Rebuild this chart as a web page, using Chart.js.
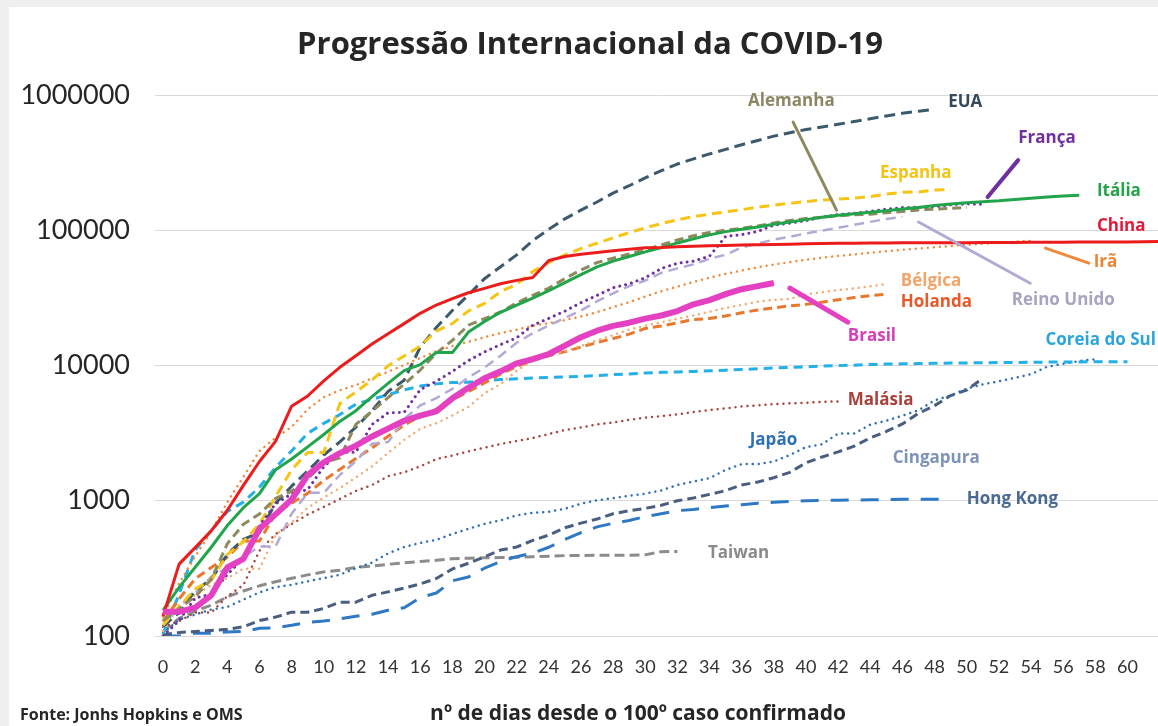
<!DOCTYPE html>
<html lang="pt">
<head>
<meta charset="utf-8">
<title>Progressão Internacional da COVID-19</title>
<script src="https://cdn.jsdelivr.net/npm/chart.js@4.4.1/dist/chart.umd.min.js"></script>
<style>
  html, body { margin: 0; padding: 0; background: #fff; }
  canvas { display: block; }
</style>
</head>
<body>
<canvas id="covidChart" width="1158" height="726"></canvas>
<script>
// Total de casos confirmados por dia, contado a partir do 100º caso (dia 0)
const brasil = [151, 151, 162, 200, 321, 372, 621, 793, 1021, 1546, 1924, 2247, 2554, 2985, 3417, 3904, 4256, 4579, 5717, 6836, 8044, 9056, 10360, 11130, 12161, 14034, 16170, 18092, 19638, 20727, 22192, 23430, 25262, 28320, 30425, 33682, 36658, 38654, 40743];
const china = [140, 340, 450, 600, 850, 1300, 1950, 2750, 5000, 5950, 7700, 9700, 11800, 14400, 17200, 20400, 24300, 28000, 31200, 34500, 37200, 40200, 42600, 44700, 59800, 63900, 66500, 68500, 70500, 72400, 74200, 74600, 75500, 76300, 76900, 77200, 77700, 78100, 78500, 78800, 79300, 79800, 80000, 80200, 80400, 80600, 80700, 80800, 80800, 80900, 81000, 81100, 81200, 81300, 81400, 81500, 81600, 81700, 81800, 81900, 82000, 82200, 82700];
const eua = [118, 149, 217, 262, 402, 518, 583, 959, 1281, 1663, 2179, 2726, 3499, 4632, 6421, 7786, 13680, 19101, 25493, 33276, 43847, 53740, 65778, 83836, 101657, 121478, 140886, 161807, 188172, 213372, 243762, 275586, 308853, 337072, 366667, 396223, 429052, 461437, 496535, 526396, 555313, 580619, 607670, 636350, 667592, 699706, 732197, 759086, 784326];
const italia = [155, 229, 322, 453, 655, 888, 1128, 1694, 2036, 2502, 3089, 3858, 4636, 5883, 7375, 9172, 10149, 12462, 12462, 17660, 21157, 24747, 27980, 31506, 35713, 41035, 47021, 53578, 59138, 63927, 69176, 74386, 80589, 86498, 92472, 97689, 101739, 105792, 110574, 115242, 119827, 124632, 128948, 132547, 135586, 139422, 143626, 147577, 152271, 156363, 159516, 162488, 165155, 168941, 172434, 175925, 178972, 181228];
const espanha = [120, 165, 222, 259, 400, 500, 673, 1073, 1695, 2277, 2277, 5232, 6391, 7798, 9942, 11748, 13910, 17963, 20410, 25374, 28768, 35136, 39885, 49515, 57786, 65719, 73235, 80110, 87956, 95923, 104118, 112065, 119199, 126168, 131646, 136675, 141942, 148220, 153222, 158273, 163027, 166831, 170099, 172541, 177644, 184948, 190839, 191726, 198674, 200210];
const alemanha = [130, 159, 196, 262, 482, 670, 799, 1040, 1176, 1457, 1908, 2078, 3675, 4585, 5795, 7272, 9257, 12327, 15320, 19848, 22213, 24873, 29056, 32986, 37323, 43938, 50871, 57695, 62095, 66885, 71808, 77872, 84794, 91159, 96092, 100123, 103374, 107663, 113296, 118181, 122171, 124908, 127854, 130072, 131359, 134753, 137698, 141397, 143342, 145184, 147065];
const franca = [100, 130, 191, 204, 285, 377, 653, 949, 1126, 1209, 1784, 2281, 2281, 3661, 4469, 4499, 6633, 7652, 9043, 10871, 12612, 14282, 16018, 19856, 22304, 25233, 29155, 32964, 37575, 40174, 44550, 52128, 56989, 59105, 64338, 89953, 92839, 98010, 109069, 112950, 117749, 124869, 130730, 133670, 137875, 143303, 147091, 147969, 149149, 154097, 156480, 155393];
const reinoUnido = [116, 164, 207, 274, 322, 384, 459, 459, 802, 1144, 1145, 1551, 1960, 2642, 2716, 4014, 5067, 5745, 6726, 8164, 9640, 11812, 14745, 17312, 19780, 22453, 25481, 29865, 34173, 38689, 42477, 48436, 52279, 55949, 61474, 65872, 74605, 79874, 85206, 89570, 94845, 99483, 104145, 109769, 115314, 121172, 125856];
const ira = [139, 245, 388, 593, 978, 1501, 2336, 2922, 3513, 4747, 5823, 6566, 7161, 8042, 9000, 10075, 11364, 12729, 13938, 14991, 16169, 17361, 18407, 19644, 20610, 21638, 23049, 24811, 27017, 29406, 32332, 35408, 38309, 41495, 44605, 47593, 50468, 53183, 55743, 58226, 60500, 62589, 64586, 66220, 68192, 70029, 71686, 73303, 74877, 76389, 77995, 79494, 80868, 82211, 83505];
const belgica = [109, 169, 200, 239, 267, 314, 314, 559, 689, 886, 1058, 1243, 1486, 1795, 2257, 2815, 3401, 3743, 4269, 4937, 6235, 7284, 9134, 10836, 11899, 12775, 13964, 15348, 16770, 18431, 19691, 20814, 22194, 23403, 24983, 26667, 28018, 29647, 30589, 31119, 33573, 34809, 36138, 37183, 38496, 39983];
const holanda = [128, 188, 265, 321, 382, 503, 503, 804, 959, 1135, 1413, 1705, 2051, 2460, 2994, 3631, 4204, 4749, 5560, 6412, 7431, 8647, 9819, 10930, 11817, 12667, 13696, 14788, 15821, 17053, 18803, 19580, 20682, 21903, 22253, 23249, 24571, 25746, 26710, 27580, 28316, 29383, 30619, 31766, 32838, 33588];
const coreiaDoSul = [104, 204, 433, 602, 833, 977, 1261, 1766, 2337, 3150, 3736, 4335, 5186, 5621, 6088, 6593, 7041, 7314, 7478, 7513, 7755, 7869, 7979, 8086, 8162, 8236, 8320, 8413, 8565, 8652, 8799, 8897, 8961, 9037, 9137, 9241, 9332, 9478, 9583, 9661, 9786, 9887, 9976, 10062, 10156, 10237, 10284, 10331, 10384, 10423, 10450, 10480, 10512, 10537, 10564, 10591, 10613, 10635, 10653, 10661, 10674];
const malasia = [117, 129, 149, 149, 197, 238, 428, 566, 673, 790, 900, 1030, 1183, 1306, 1518, 1624, 1796, 2031, 2161, 2320, 2470, 2626, 2766, 2908, 3116, 3333, 3483, 3662, 3793, 3963, 4119, 4228, 4346, 4530, 4683, 4817, 4987, 5072, 5182, 5251, 5305, 5389, 5425];
const japao = [105, 132, 144, 157, 164, 186, 210, 230, 239, 254, 268, 284, 317, 349, 408, 455, 488, 514, 568, 620, 675, 716, 780, 814, 829, 873, 950, 1007, 1046, 1089, 1128, 1193, 1307, 1387, 1468, 1693, 1866, 1866, 1953, 2178, 2495, 2617, 3139, 3139, 3654, 3906, 4257, 4667, 5530, 6005, 6748, 7255, 7645, 8100, 8626, 9787, 10296, 10797, 11135];
const cingapura = [102, 106, 108, 110, 112, 117, 130, 138, 150, 150, 160, 178, 178, 200, 212, 226, 243, 266, 313, 345, 385, 432, 455, 509, 558, 631, 683, 732, 802, 844, 879, 926, 1000, 1049, 1114, 1189, 1309, 1375, 1481, 1623, 1910, 2108, 2299, 2532, 2918, 3252, 3699, 4427, 5050, 5992, 6588, 8014];
const hongKong = [100, 100, 105, 105, 107, 108, 114, 115, 120, 126, 129, 134, 140, 145, 155, 162, 192, 208, 256, 273, 317, 356, 386, 410, 453, 518, 582, 641, 682, 714, 765, 802, 845, 862, 890, 914, 935, 960, 973, 989, 1000, 1004, 1010, 1012, 1017, 1019, 1024, 1025, 1025, 1026];
const taiwan = [108, 135, 153, 169, 195, 215, 235, 252, 267, 283, 298, 306, 322, 329, 339, 348, 355, 363, 373, 376, 379, 380, 382, 385, 388, 393, 393, 395, 395, 395, 398, 420, 422];

// Eixos
const xTicks = [0, 2, 4, 6, 8, 10, 12, 14, 16, 18, 20, 22, 24, 26, 28, 30, 32, 34, 36, 38, 40, 42, 44, 46, 48, 50, 52, 54, 56, 58, 60];
const yTicks = [100, 1000, 10000, 100000, 1000000];

const DOT = [0.01, 6];

function toPoints(values) {
  return values.map((v, i) => ({ x: i, y: v }));
}

function series(label, values, color, width, dash, round) {
  return {
    label,
    data: toPoints(values),
    borderColor: color,
    borderWidth: width,
    borderDash: dash || [],
    borderCapStyle: round ? 'round' : 'butt',
    borderJoinStyle: 'round',
    pointRadius: 0,
    tension: 0,
    fill: false,
  };
}

// index 0 is drawn on top
const datasets = [
  series('Brasil', brasil, '#e440c2', 6),
  series('China', china, '#ec1c1c', 3),
  series('Itália', italia, '#22a44a', 3),
  series('França', franca, '#7030a0', 3, DOT, true),
  series('Alemanha', alemanha, '#8e8a5e', 3, [9, 5]),
  series('Espanha', espanha, '#f5c414', 3, [10, 6]),
  series('EUA', eua, '#3d5a6c', 3, [11, 6]),
  series('Reino Unido', reinoUnido, '#b4a9d4', 2.5, [10, 6]),
  series('Irã', ira, '#ef8a3c', 2.5, DOT, true),
  series('Bélgica', belgica, '#f4aa72', 2.5, DOT, true),
  series('Holanda', holanda, '#e8782e', 3, [9, 5]),
  series('Coreia do Sul', coreiaDoSul, '#22b0e6', 3, [9, 6]),
  series('Malásia', malasia, '#a8443c', 2.5, DOT, true),
  series('Japão', japao, '#2e6fb4', 2.5, DOT, true),
  series('Cingapura', cingapura, '#4a5f80', 3, [9, 5]),
  series('Hong Kong', hongKong, '#2e78c4', 3, [18, 12]),
  series('Taiwan', taiwan, '#8c8c8c', 3, [10, 5]),
];

// Rótulos das séries e linhas de chamada (em coordenadas de dados)
const seriesLabels = [
  { text: 'Alemanha', color: '#8c8662', day: 36.4, value: 899000 },
  { text: 'EUA', color: '#34495c', day: 48.85, value: 885000 },
  { text: 'França', color: '#7030a0', day: 53.2, value: 480000 },
  { text: 'Espanha', color: '#f2c414', day: 44.6, value: 264000 },
  { text: 'Itália', color: '#22a44a', day: 58.1, value: 195000 },
  { text: 'China', color: '#e31a3a', day: 58.1, value: 107000 },
  { text: 'Irã', color: '#ee8533', day: 57.9, value: 58000 },
  { text: 'Bélgica', color: '#f2a56a', day: 45.9, value: 42000 },
  { text: 'Reino Unido', color: '#a9a3c2', day: 52.8, value: 30400 },
  { text: 'Holanda', color: '#e8582a', day: 45.9, value: 29400 },
  { text: 'Brasil', color: '#d63fb8', day: 42.6, value: 16500 },
  { text: 'Coreia do Sul', color: '#2aa6d8', day: 54.9, value: 15400 },
  { text: 'Malásia', color: '#a8403c', day: 42.6, value: 5540 },
  { text: 'Japão', color: '#2e70b6', day: 36.5, value: 2810 },
  { text: 'Cingapura', color: '#7f92b8', day: 45.4, value: 2070 },
  { text: 'Hong Kong', color: '#4a6a90', day: 50.0, value: 1030 },
  { text: 'Taiwan', color: '#8a8a8a', day: 33.9, value: 410 },
];

const leaders = [
  { color: '#8e8a5e', width: 3, from: [39.2, 630000], to: [41.9, 141000] },
  { color: '#7030a0', width: 4, from: [53.2, 330000], to: [51.3, 176000] },
  { color: '#ef8a3c', width: 3, from: [54.9, 73800], to: [57.6, 57100] },
  { color: '#b4a9d4', width: 3, from: [47.0, 115000], to: [53.95, 40600] },
  { color: '#e440c2', width: 5, from: [39.0, 37300], to: [42.6, 20900] },
];

const TICK_FONT = "Lato, 'Open Sans', sans-serif";
const TEXT_FONT = "'Open Sans', Lato, sans-serif";

const frame = {
  id: 'frame',
  beforeDraw(chart) {
    const { ctx, width, height } = chart;
    ctx.save();
    ctx.fillStyle = '#efefef';
    ctx.fillRect(0, 0, width, height);
    ctx.fillStyle = '#ffffff';
    ctx.fillRect(9, 7, width - 9, height - 7);
    ctx.restore();
  },
  afterDraw(chart) {
    const { ctx } = chart;
    ctx.save();
    ctx.fillStyle = '#262626';
    ctx.textBaseline = 'middle';
    ctx.textAlign = 'center';
    ctx.font = 'bold 31px ' + TEXT_FONT;
    ctx.fillText('Progressão Internacional da COVID-19', 590, 45);
    ctx.font = 'bold 21px ' + TEXT_FONT;
    ctx.fillText('nº de dias desde o 100º caso confirmado', 638, 714);
    ctx.textAlign = 'left';
    ctx.font = 'bold 16px ' + TEXT_FONT;
    ctx.fillText('Fonte: Jonhs Hopkins e OMS', 20, 715);
    ctx.restore();
  },
};

const callouts = {
  id: 'callouts',
  afterDatasetsDraw(chart) {
    const { ctx, scales: { x, y } } = chart;
    ctx.save();
    ctx.lineCap = 'round';
    leaders.forEach((l) => {
      ctx.strokeStyle = l.color;
      ctx.lineWidth = l.width;
      ctx.beginPath();
      ctx.moveTo(x.getPixelForValue(l.from[0]), y.getPixelForValue(l.from[1]));
      ctx.lineTo(x.getPixelForValue(l.to[0]), y.getPixelForValue(l.to[1]));
      ctx.stroke();
    });
    ctx.font = 'bold 17px ' + TEXT_FONT;
    ctx.textAlign = 'left';
    ctx.textBaseline = 'middle';
    seriesLabels.forEach((s) => {
      ctx.fillStyle = s.color;
      ctx.fillText(s.text, x.getPixelForValue(s.day), y.getPixelForValue(s.value));
    });
    ctx.restore();
  },
};

const ctx = document.getElementById('covidChart').getContext('2d');

new Chart(ctx, {
  type: 'line',
  data: { datasets },
  options: {
    responsive: false,
    animation: false,
    devicePixelRatio: 1,
    layout: { padding: { top: 95, left: 0, right: 0, bottom: 0 } },
    plugins: {
      legend: { display: false },
      tooltip: { enabled: false },
    },
    scales: {
      x: {
        type: 'linear',
        min: -0.5,
        max: 61.9,
        grid: { display: false, drawTicks: false },
        border: { display: false },
        afterBuildTicks: (scale) => {
          scale.ticks = xTicks.map((v) => ({ value: v }));
        },
        afterFit: (scale) => {
          scale.height = 90;
        },
        ticks: {
          autoSkip: false,
          maxRotation: 0,
          padding: 20,
          color: '#333333',
          font: { family: TICK_FONT, size: 18 },
          callback: (v) => String(v),
        },
      },
      y: {
        type: 'logarithmic',
        min: 100,
        max: 1000000,
        grid: { color: '#d9d9d9', lineWidth: 1, drawTicks: false },
        border: { display: false },
        afterBuildTicks: (scale) => {
          scale.ticks = yTicks.map((v) => ({ value: v }));
        },
        afterFit: (scale) => {
          scale.width = 155;
        },
        ticks: {
          padding: 25,
          color: '#262626',
          font: { family: TICK_FONT, size: 27 },
          callback: (v) => String(v),
        },
      },
    },
  },
  plugins: [frame, callouts],
});
</script>
</body>
</html>
